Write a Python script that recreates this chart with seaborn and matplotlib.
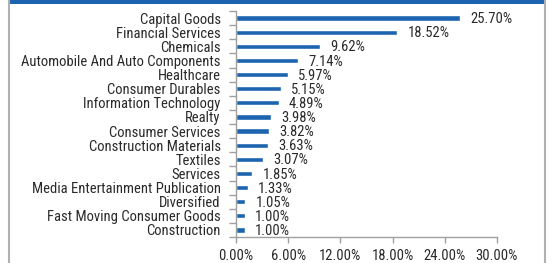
import matplotlib
matplotlib.use("Agg")
import matplotlib.pyplot as plt
import seaborn as sns
import pandas as pd
from matplotlib import font_manager as fm
from matplotlib.lines import Line2D
from matplotlib.patches import Rectangle

sectors = [
    "Capital Goods", "Financial Services", "Chemicals",
    "Automobile And Auto Components", "Healthcare", "Consumer Durables",
    "Information Technology", "Realty", "Consumer Services",
    "Construction Materials", "Textiles", "Services",
    "Media Entertainment Publication", "Diversified",
    "Fast Moving Consumer Goods", "Construction",
]
weights = [25.70, 18.52, 9.62, 7.14, 5.97, 5.15, 4.89, 3.98, 3.82,
           3.63, 3.07, 1.85, 1.33, 1.05, 1.00, 1.00]
xticks = [0, 6, 12, 18, 24, 30]

df = pd.DataFrame({"sector": sectors, "weight": weights})

sns.set_style("white")

# narrow sans font like the original (Helvetica Condensed style)
available = {f.name for f in fm.fontManager.ttflist}
narrow = "DejaVu Sans"
for cand in ["Liberation Sans Narrow", "Roboto Condensed", "Archivo Narrow"]:
    if cand in available:
        narrow = cand
        break
plt.rcParams["font.family"] = [narrow, "DejaVu Sans"]
if narrow == "DejaVu Sans":
    plt.rcParams["font.stretch"] = "condensed"

blue = "#1c64b0"
grey = "#a0a0a0"
txt = "#2a2a2a"
fs = 10.5

fig = plt.figure(figsize=(5.52, 2.63), dpi=100)
ax = fig.add_axes([236 / 552, 1 - 237 / 263, 261 / 552, 226 / 263])

sns.barplot(data=df, x="weight", y="sector", orient="h", color=blue,
            width=0.38, saturation=1, ax=ax)

for i, v in enumerate(weights):
    ax.text(v + 1.2, i + 0.08, f"{v:.2f}%", va="center", ha="left",
            fontsize=fs, color=txt)

ax.set_xlim(0, 30)
ax.set_ylim(15.5, -0.5)
ax.set_xticks(xticks)
ax.set_xticklabels([f"{t:.2f}%" for t in xticks])
ax.set_yticks(range(len(sectors)))
ax.set_yticks([i - 0.5 for i in range(len(sectors) + 1)], minor=True)
ax.tick_params(axis="y", which="major", length=0, pad=11, labelsize=fs,
               labelcolor=txt)
ax.tick_params(axis="y", which="minor", length=5, color=grey, width=1,
               left=True)
ax.tick_params(axis="x", length=4, color=grey, width=1, labelsize=fs,
               labelcolor=txt, pad=5, bottom=True)
ax.set_xlabel("")
ax.set_ylabel("")
for s in ["top", "right"]:
    ax.spines[s].set_visible(False)
for s in ["left", "bottom"]:
    ax.spines[s].set_color(grey)
    ax.spines[s].set_linewidth(1)

# frame around the chart
fig.add_artist(Line2D([9 / 552, 9 / 552], [0, 1], color="#b0b0b0", lw=1.5))
fig.add_artist(Line2D([545 / 552, 545 / 552], [0, 1], color="#b0b0b0", lw=1.5))
fig.add_artist(Rectangle((9 / 552, 1 - 3.5 / 263), 536 / 552, 3.5 / 263,
                         color=blue, lw=0))

fig.savefig("out.png", dpi=100)
